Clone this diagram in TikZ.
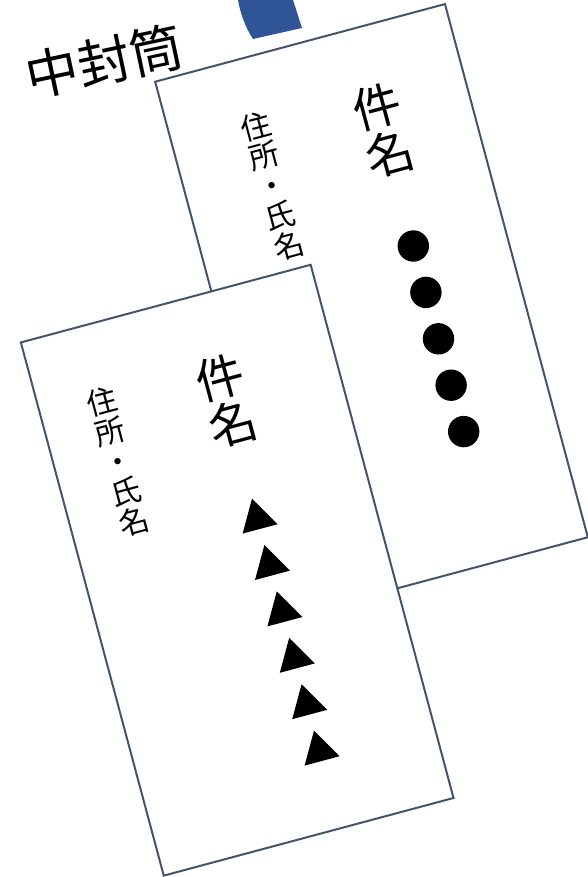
\documentclass[tikz,border=0pt]{standalone}
\usepackage{fontspec}
\usepackage{xcolor}
\newfontfamily\jpfont{Noto Sans CJK JP}
\usetikzlibrary{shapes.geometric}
\definecolor{framegray}{HTML}{44546A}
\definecolor{clipblue}{HTML}{2F5597}

\tikzset{
  card/.style={draw=framegray, line width=2pt, fill=white, inner sep=0pt,
    minimum width=300pt, minimum height=552pt, rotate=15},
  subject/.style={rotate=15, align=center, inner sep=0pt,
    font=\jpfont\fontsize{48}{48.5}\selectfont},
  address/.style={rotate=15, align=center, inner sep=0pt,
    font=\jpfont\fontsize{30}{31}\selectfont},
  dotmark/.style={circle, fill=black, inner sep=0pt, minimum size=31.4pt},
  trimark/.style={regular polygon, regular polygon sides=3, fill=black,
    inner sep=0pt, minimum size=41.8pt, rotate=15}
}

\begin{document}
\begin{tikzpicture}[x=1pt, y=-1pt]
  \useasboundingbox (0,0) rectangle (587,877);

  % blue clip peeking out at the top
  \fill[clipblue] (238,0) .. controls (240,12) and (245,27) .. (253,39)
    -- (302,28) .. controls (299,19) and (296,9) .. (293,0) -- cycle;

  % title
  \node[rotate=12, inner sep=0pt, font=\jpfont\fontsize{53}{53}\selectfont]
    (title) at (104,61) {中封筒};

  % back envelope
  \node[card] (backcard) at (371.5,309.5) {};
  \node[subject] (backsubject) at (383.3,130) {件\\名};
  \node[address] (backaddress) at (272.5,186) {住\\所\\・\\氏\\名};
  \foreach \i in {0,...,4}
    \node[dotmark] (dot\i) at ({413.3+12.6*\i},{246+46.4*\i}) {};

  % front envelope
  \node[card] (frontcard) at (237.2,570.2) {};
  \node[subject] (frontsubject) at (226.7,400.8) {件\\名};
  \node[address] (frontaddress) at (118.3,461.7) {住\\所\\・\\氏\\名};
  \foreach \i in {0,...,5}
    \node[trimark] (tri\i) at ({257.4+12.4*\i},{518.8+46.4*\i}) {};
\end{tikzpicture}
\end{document}
